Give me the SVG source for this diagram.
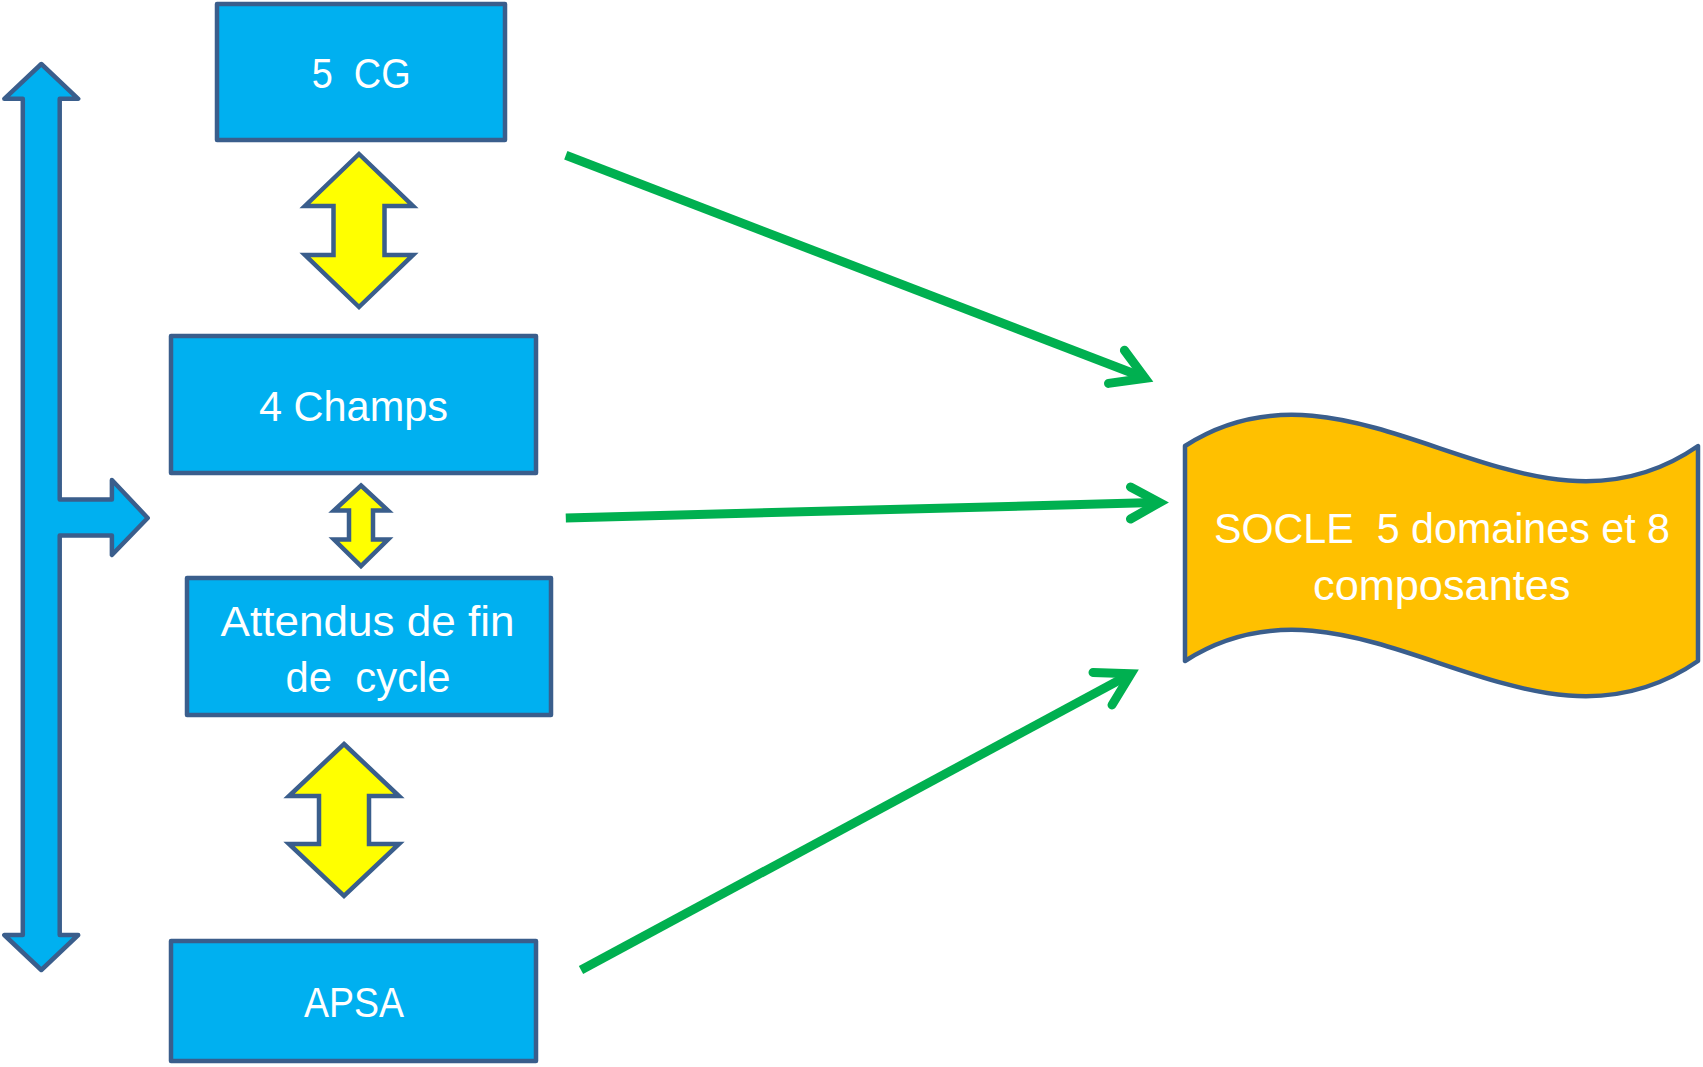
<svg xmlns="http://www.w3.org/2000/svg" width="1703" height="1067" viewBox="0 0 1703 1067">
<style>
.box{fill:#00B0F0;stroke:#3A5E8C;stroke-width:4.5;stroke-linejoin:round}
.yel{fill:#FFFF00;stroke:#3A5E8C;stroke-width:4.5;stroke-linejoin:miter}
.lbl{font-family:"Liberation Sans",Arial,sans-serif;font-size:42px;fill:#FFFFFF;white-space:pre}
.conn{fill:none;stroke:#00B050;stroke-width:9}
.head{fill:none;stroke:#00B050;stroke-width:9;stroke-linecap:round;stroke-linejoin:miter;stroke-miterlimit:10}
.wave{fill:#FFC000;stroke:#3A5E8C;stroke-width:4.5;stroke-linejoin:round}
</style>
<rect width="1703" height="1067" fill="#FFFFFF"/>
<g id="side-arrow">
<polygon class="box" points="41.3,64 78.2,98.8 59.7,98.8 59.7,499.6 111.9,499.6 111.9,480 147.7,518 111.9,555 111.9,535.4 59.7,535.4 59.7,935 78.2,935 41.3,970 4.3,935 22.8,935 22.8,98.8 4.3,98.8"/>
</g>
<g id="node-5cg">
<rect class="box" x="217" y="4" width="288" height="136"/>
<text class="lbl" x="311.7" y="88" textLength="99" lengthAdjust="spacingAndGlyphs">5  CG</text>
</g>
<g id="link-cg-champs">
<polygon class="yel" points="359,154 413,206 384.5,206 384.5,255 413,255 359,307 305,255 333.5,255 333.5,206 305,206"/>
</g>
<g id="node-champs">
<rect class="box" x="171" y="336" width="365" height="137"/>
<text class="lbl" x="259" y="421" textLength="189" lengthAdjust="spacingAndGlyphs">4 Champs</text>
</g>
<g id="link-champs-attendus">
<polygon class="yel" points="361,485.5 388,510.5 373,510.5 373,539.5 388,539.5 361,566 334,539.5 349,539.5 349,510.5 334,510.5"/>
</g>
<g id="node-attendus">
<rect class="box" x="187" y="578" width="364" height="137"/>
<text class="lbl" x="220.5" y="635.5" textLength="294" lengthAdjust="spacingAndGlyphs">Attendus de fin</text>
<text class="lbl" x="285.6" y="692" textLength="165" lengthAdjust="spacingAndGlyphs">de  cycle</text>
</g>
<g id="link-attendus-apsa">
<polygon class="yel" points="344,744 399,796 369,796 369,844 399,844 344,896 289,844 319,844 319,796 289,796"/>
</g>
<g id="node-apsa">
<rect class="box" x="171" y="941" width="365" height="120"/>
<text class="lbl" x="304" y="1017" textLength="100" lengthAdjust="spacingAndGlyphs">APSA</text>
</g>
<g id="node-socle">
<path class="wave" d="M1185,446 C1357,335 1527,565 1698,446 L1698,661 C1527,780 1357,550 1185,661 Z"/>
<text class="lbl" x="1214" y="543" textLength="456" lengthAdjust="spacingAndGlyphs">SOCLE  5 domaines et 8</text>
<text class="lbl" x="1313" y="599.5" textLength="257.5" lengthAdjust="spacingAndGlyphs">composantes</text>
</g>
<g id="connectors">
<line class="conn" x1="565.8" y1="155.3" x2="1140" y2="376"/>
<polyline class="head" points="1124.4,350.3 1145.2,378.3 1108.5,383.4"/>
<line class="conn" x1="565.8" y1="518" x2="1154" y2="502.6"/>
<polyline class="head" points="1130.5,487 1159.6,502.5 1130.5,519"/>
<line class="conn" x1="581" y1="970" x2="1126" y2="676.5"/>
<polyline class="head" points="1093,672.5 1131,673.8 1112,705"/>
</g>
</svg>
